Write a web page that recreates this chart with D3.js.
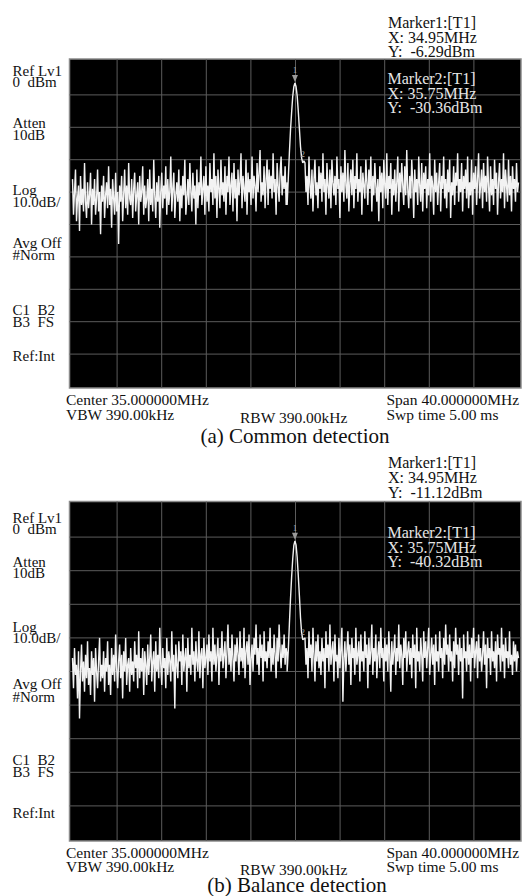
<!DOCTYPE html>
<html>
<head>
    <meta charset="utf-8">
    <title>Spectrum</title>
    <style>
        html, body {
            margin: 0;
            padding: 0;
            background-color: #ffffff;
        }
        text {
            font-family: "Liberation Serif", "Times New Roman", serif;
            white-space: pre;
        }
    </style>
</head>
<body>
    <div id="container"></div>

    <script src="https://d3js.org/d3.v7.min.js"></script>

    <script>
        // sweep: center 35 MHz, span 40 MHz, ref 0 dBm, 10 dB/div
        var freqStart = 15, freqStop = 55;
        var xTicks = [15, 19, 23, 27, 31, 35, 39, 43, 47, 51, 55];
        var yTicks = [0, -10, -20, -30, -40, -50, -60, -70, -80, -90, -100];

        // noise left of the carrier (15 .. 34.25 MHz) and right (35.85 .. 55 MHz)
        var leftSpan = [15, 34.25];
        var rightSpan = [35.85, 55];

        // carrier, offsets from 34.95 MHz
        var peakCenter = 34.95;
        var peakOffset = [-0.7, -0.6, -0.5, -0.4, -0.3, -0.2, -0.1, 0, 0.1, 0.2, 0.3, 0.4, 0.5, 0.6, 0.7, 0.8];

        // (a) common detection, dBm
        var commonLeft = [
            -36,-47,-40,-33,-49,-42,-38,-52,-35,-44,-39,-46,-31,-43,-48,
            -37,-45,-41,-34,-50,-39,-44,-36,-47,-42,-33,-46,-40,-53,-38,
            -43,-35,-48,-41,-37,-45,-32,-44,-39,-51,-36,-42,-47,-34,-46,
            -40,-56,-38,-43,-35,-49,-41,-33,-45,-38,-47,-31,-42,-44,-36,
            -48,-39,-34,-46,-41,-37,-50,-35,-43,-40,-32,-47,-38,-45,-42,
            -36,-49,-33,-44,-39,-46,-30,-41,-48,-37,-43,-35,-51,-40,-34,
            -45,-38,-42,-32,-47,-36,-44,-40,-29,-46,-39,-34,-48,-41,-37,
            -43,-33,-49,-38,-45,-35,-41,-30,-47,-42,-36,-44,-31,-40,-46,
            -34,-42,-38,-50,-33,-45,-37,-41,-29,-44,-39,-35,-47,-32,-43,
            -38,-46,-31,-40,-36,-44,-28,-42,-35,-48,-33,-39,-45,-30,-41,
            -37,-43,-32,-47,-35,-40,-29,-44,-38,-34,-46,-31,-42,-36,-49,
            -33,-41,-37,-28,-45,-35,-39,-43,-30,-47,-34,-40,-36,-44,-29,
            -42,-35,-38,-46,-31,-40,-34,-27,-43,-37,-41,-32,-45,-36,-30,
            -44,-33,-39,-35,-42,-28,-40,-36,-47,-31,-38,-43,-34,-29,-41,
            -35,-39,-32,-44,-37
        ];
        var commonPeak = [-44, -36, -28, -21, -15.5, -10.5, -7.5, -6.29, -7.4, -10.3, -15, -20.5, -26, -29.5, -31, -30.36];
        var commonRight = [
            -31,-40,-35,-44,-29,-38,-42,-33,-46,-36,-30,-41,-37,-45,-32,
            -39,-34,-43,-28,-40,-36,-47,-31,-38,-42,-33,-45,-30,-37,-41,
            -35,-44,-29,-39,-36,-48,-32,-40,-34,-43,-27,-38,-42,-31,-46,
            -37,-33,-41,-30,-45,-35,-39,-28,-43,-36,-40,-32,-47,-34,-38,
            -42,-30,-37,-44,-33,-39,-29,-46,-35,-41,-31,-38,-43,-36,-49,
            -32,-40,-34,-45,-30,-38,-42,-28,-44,-35,-39,-31,-47,-36,-41,
            -33,-43,-37,-29,-46,-34,-40,-31,-38,-44,-32,-41,-27,-39,-45,
            -35,-42,-30,-37,-48,-33,-40,-36,-44,-29,-38,-43,-31,-46,-34,
            -39,-32,-45,-36,-41,-28,-43,-35,-38,-47,-30,-40,-34,-44,-37,
            -31,-46,-35,-39,-29,-42,-36,-45,-33,-40,-30,-48,-37,-41,-32,
            -44,-34,-38,-28,-43,-36,-40,-31,-46,-35,-39,-33,-42,-29,-45,
            -37,-41,-30,-47,-34,-39,-32,-44,-36,-28,-42,-38,-33,-45,-31,
            -40,-35,-43,-29,-38,-46,-32,-41,-36,-44,-30,-39,-34,-47,-37,
            -31,-42,-36,-40,-28,-45,-33,-38,-43,-30,-41,-35,-46,-32,-39,
            -36,-43,-31,-40,-37
        ];

        // (b) balance detection, dBm
        var balanceLeft = [
            -46,-55,-43,-51,-48,-58,-44,-64,-50,-42,-53,-47,-56,-45,-52,
            -41,-54,-49,-57,-44,-51,-46,-59,-43,-50,-55,-47,-40,-53,-48,
            -52,-44,-56,-46,-50,-41,-54,-48,-57,-43,-51,-45,-53,-39,-49,
            -55,-47,-42,-52,-45,-58,-44,-50,-40,-54,-48,-46,-56,-43,-51,
            -47,-53,-41,-49,-45,-55,-38,-52,-46,-50,-43,-57,-44,-48,-54,
            -42,-51,-46,-39,-53,-47,-44,-56,-41,-50,-45,-52,-37,-48,-54,
            -43,-49,-46,-55,-40,-51,-44,-47,-53,-38,-50,-45,-61,-42,-48,
            -52,-41,-47,-44,-54,-39,-50,-46,-43,-56,-40,-49,-45,-51,-37,
            -48,-44,-53,-41,-47,-50,-38,-52,-45,-43,-55,-40,-49,-46,-42,
            -51,-39,-47,-44,-53,-37,-48,-42,-50,-45,-40,-54,-43,-47,-38,
            -49,-45,-41,-52,-44,-36,-48,-43,-50,-39,-46,-53,-42,-47,-40,
            -45,-51,-38,-47,-43,-49,-37,-52,-44,-41,-48,-39,-54,-46,-42,
            -50,-40,-45,-36,-48,-43,-51,-39,-46,-42,-53,-38,-47,-44,-49,
            -41,-46,-37,-50,-43,-48,-39,-45,-52,-40,-47,-36,-44,-49,-42,
            -46,-39,-48,-43,-45
        ];
        var balancePeak = [-50, -44, -36, -28.5, -22, -16.5, -12.5, -11.12, -12.3, -16, -21.5, -27.5, -34, -38.5, -40.5, -40.32];
        var balanceRight = [
            -40,-48,-43,-52,-38,-46,-42,-50,-37,-45,-53,-41,-47,-39,-49,
            -44,-51,-40,-47,-43,-55,-38,-46,-42,-50,-36,-48,-44,-41,-53,
            -39,-47,-45,-52,-40,-49,-43,-37,-59,-46,-41,-50,-44,-38,-48,
            -42,-54,-40,-46,-43,-51,-37,-48,-45,-41,-53,-39,-47,-44,-50,
            -38,-46,-42,-55,-40,-48,-44,-36,-51,-43,-47,-39,-52,-45,-41,
            -49,-37,-46,-43,-53,-40,-47,-42,-50,-38,-45,-56,-41,-48,-44,
            -39,-51,-43,-47,-36,-49,-42,-45,-54,-40,-46,-38,-50,-44,-41,
            -48,-43,-52,-39,-46,-42,-55,-37,-47,-44,-50,-40,-45,-53,-38,
            -46,-41,-49,-43,-37,-51,-45,-40,-48,-42,-54,-39,-47,-44,-50,
            -38,-46,-43,-52,-40,-48,-36,-45,-42,-50,-39,-47,-44,-53,-41,
            -49,-37,-45,-42,-51,-40,-47,-43,-58,-39,-46,-44,-50,-38,-48,
            -42,-53,-40,-46,-37,-49,-44,-41,-52,-39,-47,-43,-50,-45,-38,
            -48,-42,-55,-40,-46,-43,-51,-38,-47,-44,-49,-41,-53,-39,-45,
            -43,-50,-37,-47,-42,-52,-40,-46,-44,-49,-38,-48,-45,-51,-41,
            -47,-42,-50,-44,-46
        ];

        var sideLabels = ["Ref Lv1", "0  dBm", "Atten", "10dB", "Log", "10.0dB/", "Avg Off", "#Norm", "C1  B2", "B3  FS", "Ref:Int"];
        var footLabels = ["Center 35.000000MHz", "VBW 390.00kHz", "RBW 390.00kHz", "Span 40.000000MHz", "Swp time 5.00 ms"];

        var panels = [
            {
                left: commonLeft, peak: commonPeak, right: commonRight,
                m1: ["Marker1:[T1]", "X: 34.95MHz", "Y:  -6.29dBm"],
                m2: ["Marker2:[T1]", "X: 35.75MHz", "Y:  -30.36dBm"],
                m1Level: -6.29, m2Freq: 35.75, m2Level: -30.36,
                caption: "(a) Common detection",
                box: [59, 388], grid: [62.5, 386.5],
                m1Y: [27.5, 42.5, 57], m2Y: [84, 98.5, 113],
                sideY: [76, 87, 128, 140, 195, 207, 248, 260, 315, 327, 361],
                footY: [405, 420, 423, 405, 420], capY: 443, capX: 295
            },
            {
                left: balanceLeft, peak: balancePeak, right: balanceRight,
                m1: ["Marker1:[T1]", "X: 34.95MHz", "Y:  -11.12dBm"],
                m2: ["Marker2:[T1]", "X: 35.75MHz", "Y:  -40.32dBm"],
                m1Level: -11.12, m2Freq: 35.75, m2Level: -40.32,
                caption: "(b) Balance detection",
                box: [501.5, 841], grid: [503.5, 839.5],
                m1Y: [468, 483, 498], m2Y: [538, 552.5, 567],
                sideY: [523, 534, 567, 578, 632, 643, 689, 702, 765, 777, 818],
                footY: [858, 872, 875, 858, 872], capY: 891.5, capX: 297
            }
        ];

        var width = 525, height = 896;
        var footX = [66, 66, 240, 386.5, 386.5];

        var svg = d3.select("div#container")
            .append("svg")
            .attr("width", width)
            .attr("height", height)
            .attr("font-family", "'Liberation Serif', 'Times New Roman', serif")
            .style("display", "block");

        svg.append("rect")
            .attr("width", width)
            .attr("height", height)
            .style("fill", "#ffffff");

        var x = d3.scaleLinear().domain([freqStart, freqStop]).range([72.5, 518.5]);

        panels.forEach(function (p) {
            var y = d3.scaleLinear().domain([0, -100]).range(p.grid).clamp(true);
            var g = svg.append("g");

            g.append("rect")
                .attr("x", 69.5)
                .attr("y", p.box[0])
                .attr("width", 521 - 69.5)
                .attr("height", p.box[1] - p.box[0])
                .style("fill", "#000000")
                .style("stroke", "#8a8a8a")
                .style("stroke-width", 1.5);

            g.selectAll(".vgrid")
                .data(xTicks.slice(1, -1))
                .enter().append("line")
                .attr("x1", function (d) { return x(d); })
                .attr("x2", function (d) { return x(d); })
                .attr("y1", p.box[0])
                .attr("y2", p.box[1])
                .style("stroke", "#5c5c5c")
                .style("stroke-width", 1);

            g.selectAll(".hgrid")
                .data(yTicks.slice(1, -1))
                .enter().append("line")
                .attr("x1", 69.5)
                .attr("x2", 521)
                .attr("y1", function (d) { return y(d); })
                .attr("y2", function (d) { return y(d); })
                .style("stroke", "#5c5c5c")
                .style("stroke-width", 1);

            // build the trace: noise | carrier | noise
            var pts = [];
            p.left.forEach(function (v, i) {
                pts.push([leftSpan[0] + i * (leftSpan[1] - leftSpan[0]) / (p.left.length - 1), v]);
            });
            p.peak.forEach(function (v, i) {
                pts.push([peakCenter + peakOffset[i], v]);
            });
            p.right.forEach(function (v, i) {
                pts.push([rightSpan[0] + i * (rightSpan[1] - rightSpan[0]) / (p.right.length - 1), v]);
            });

            var line = d3.line()
                .x(function (d) { return x(d[0]); })
                .y(function (d) { return y(d[1]); });

            g.append("path")
                .datum(pts)
                .attr("d", line)
                .style("fill", "none")
                .style("stroke", "#f2f2f2")
                .style("stroke-width", 1.4)
                .style("stroke-linejoin", "bevel");

            // marker 1 (triangle + label)
            var mx = x(peakCenter), my = y(p.m1Level);
            g.append("path")
                .attr("d", "M" + (mx - 3) + "," + (my - 8) + "L" + (mx + 3) + "," + (my - 8) + "L" + mx + "," + (my - 1) + "Z")
                .style("fill", "#9a9a9a");
            g.append("text")
                .attr("x", mx)
                .attr("y", my - 10)
                .attr("text-anchor", "middle")
                .style("font-size", "9px")
                .style("fill", "#a8a8a8")
                .text("1");

            // marker 2 label
            g.append("text")
                .attr("x", x(p.m2Freq) - 1)
                .attr("y", y(p.m2Level) - 4)
                .attr("text-anchor", "middle")
                .style("font-size", "9px")
                .style("fill", "#a8a8a8")
                .text("2");

            // marker readouts
            g.selectAll(".m1")
                .data(p.m1)
                .enter().append("text")
                .attr("x", 388)
                .attr("y", function (d, i) { return p.m1Y[i]; })
                .style("font-size", "16px")
                .style("fill", "#111111")
                .text(function (d) { return d; });

            g.selectAll(".m2")
                .data(p.m2)
                .enter().append("text")
                .attr("x", 387.5)
                .attr("y", function (d, i) { return p.m2Y[i]; })
                .style("font-size", "16px")
                .style("fill", "#e6e6e6")
                .text(function (d) { return d; });

            g.selectAll(".side")
                .data(sideLabels)
                .enter().append("text")
                .attr("x", 12.5)
                .attr("y", function (d, i) { return p.sideY[i]; })
                .style("font-size", "15px")
                .style("fill", "#111111")
                .text(function (d) { return d; });

            g.selectAll(".foot")
                .data(footLabels)
                .enter().append("text")
                .attr("x", function (d, i) { return footX[i]; })
                .attr("y", function (d, i) { return p.footY[i]; })
                .style("font-size", "15.5px")
                .style("fill", "#111111")
                .text(function (d) { return d; });

            g.append("text")
                .attr("x", p.capX)
                .attr("y", p.capY)
                .attr("text-anchor", "middle")
                .style("font-size", "21px")
                .style("fill", "#111111")
                .text(p.caption);
        });
    </script>
</body>
</html>
